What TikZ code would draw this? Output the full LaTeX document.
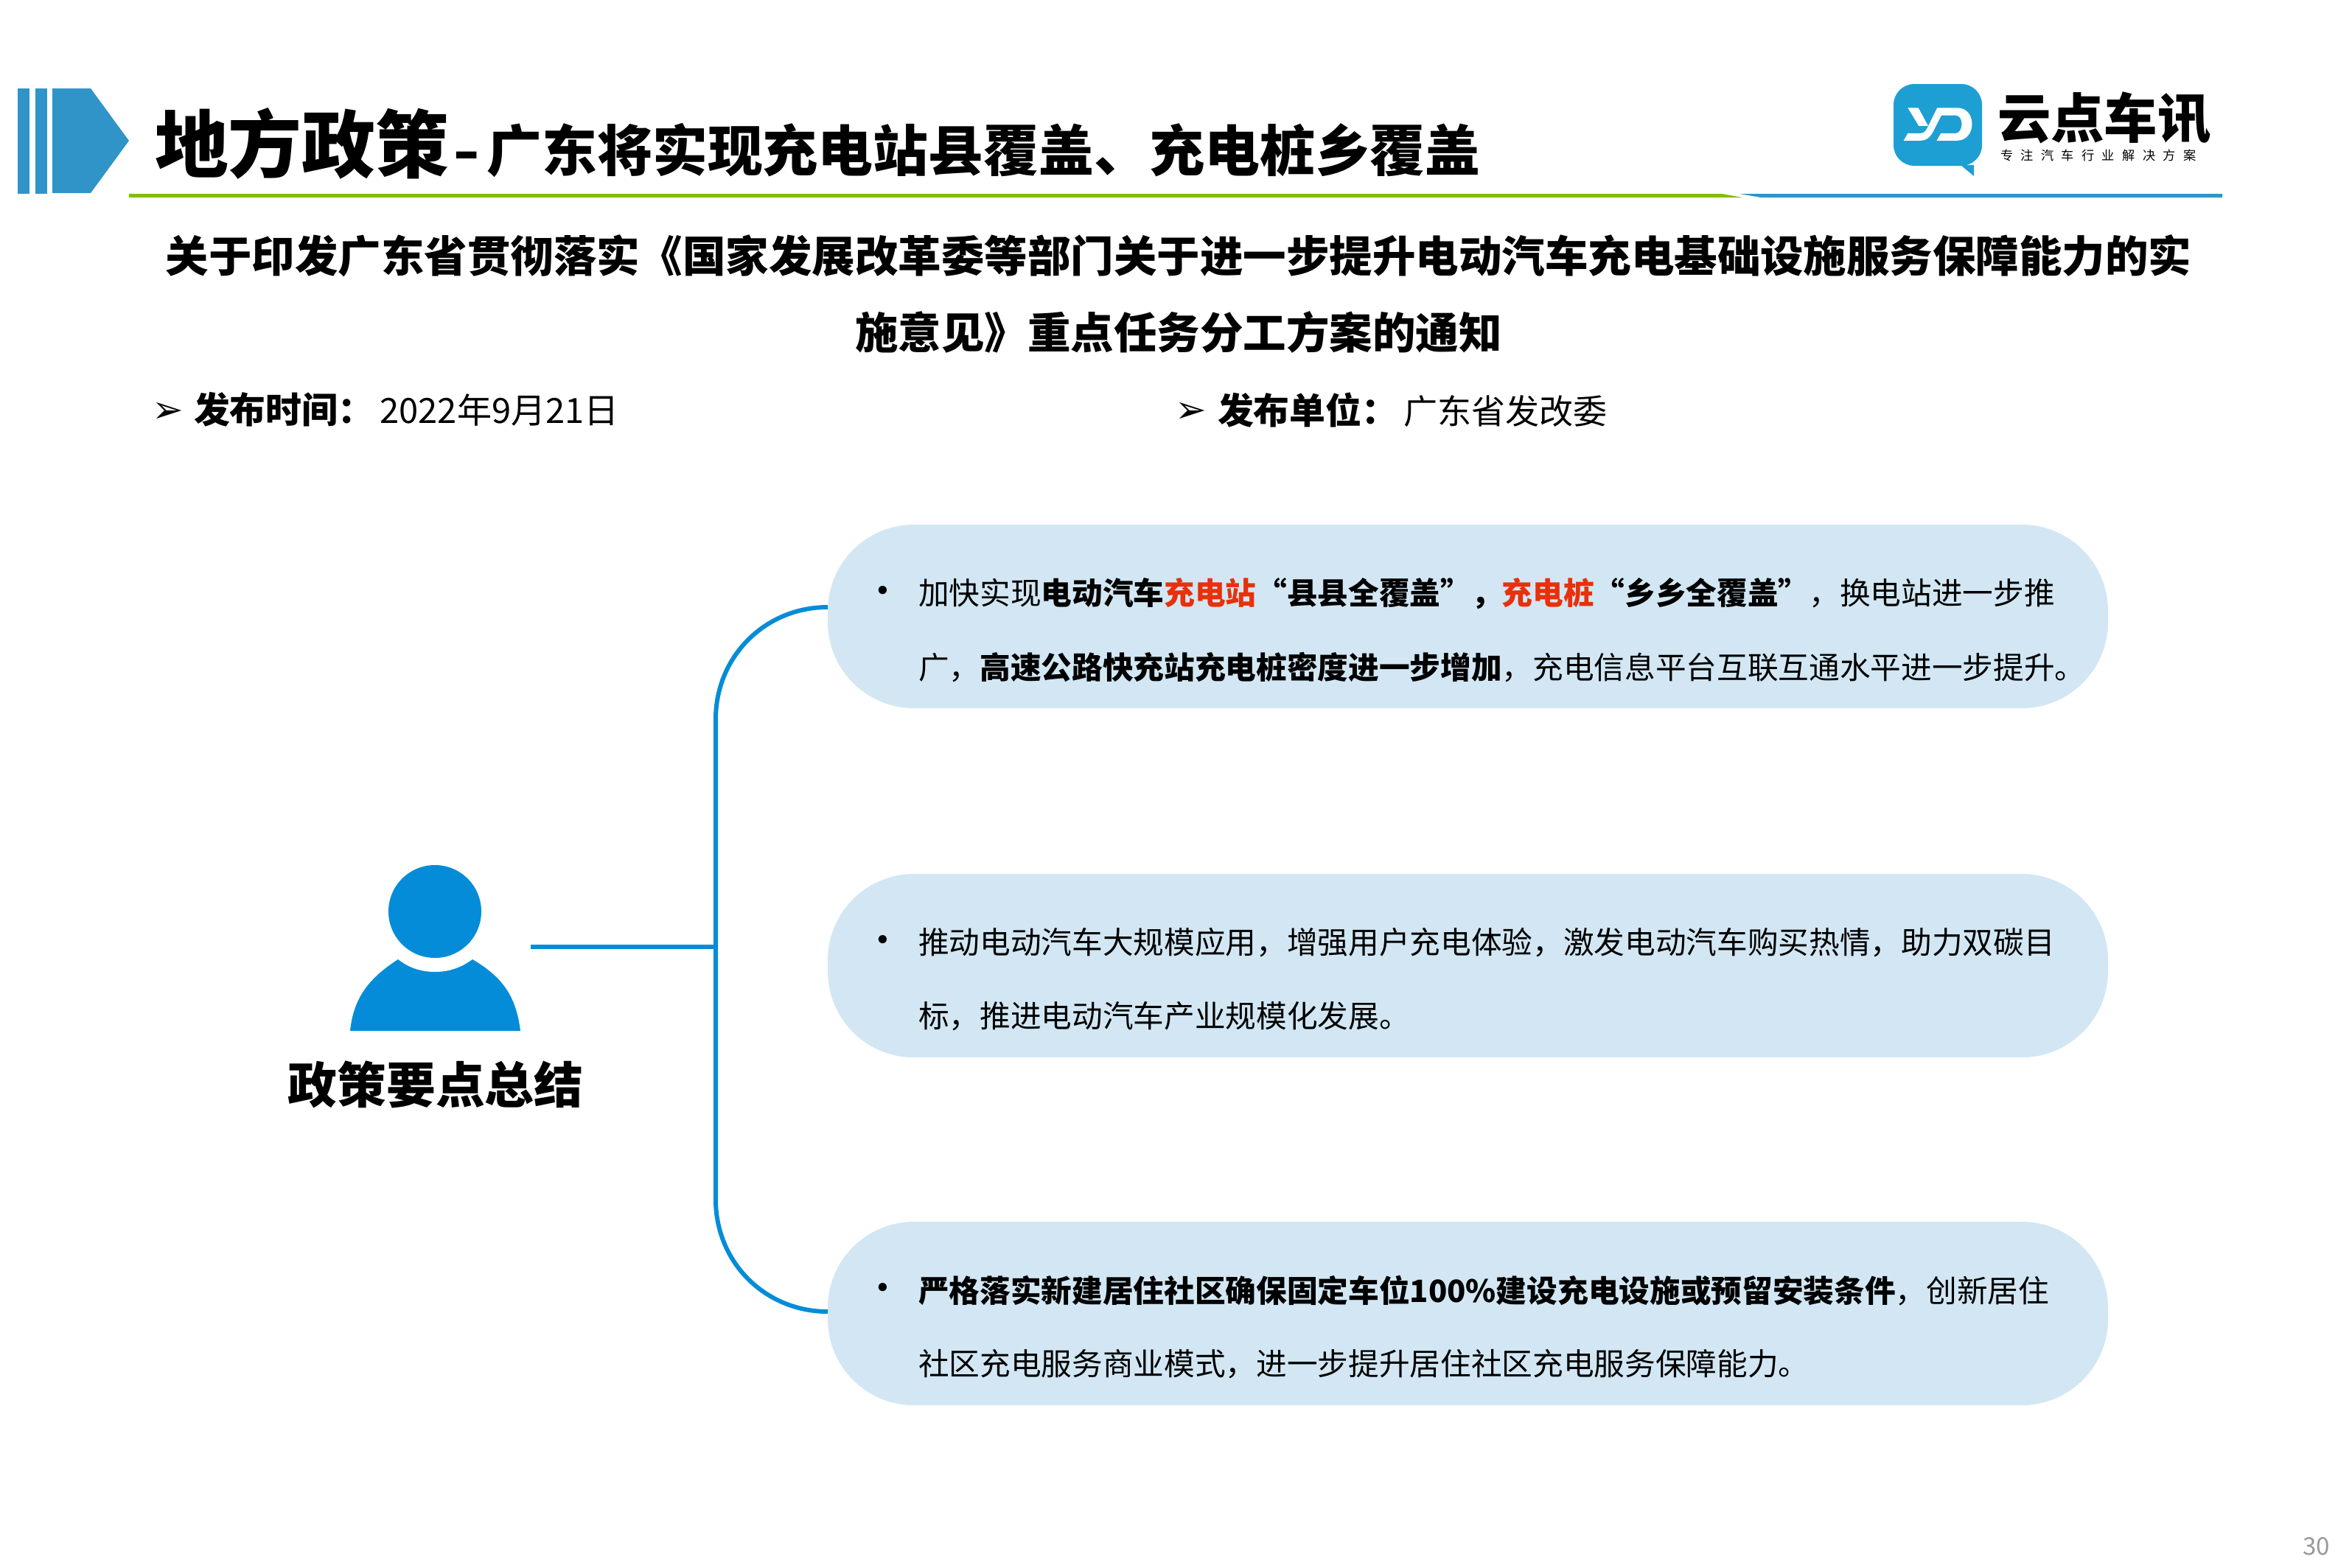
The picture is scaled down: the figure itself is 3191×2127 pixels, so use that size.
\documentclass[tikz,border=0pt]{standalone}
\usepackage{fontspec}
\setmainfont{Noto Sans CJK SC}
\newfontfamily\heavy{Noto Sans CJK SC Black}
\newfontfamily\dejavu{DejaVu Sans}
\definecolor{barblue}{HTML}{3094C8}
\definecolor{greenline}{HTML}{84BD0C}
\definecolor{logoblue}{HTML}{1E9FD4}
\definecolor{personblue}{HTML}{058CD8}
\definecolor{bubblefill}{HTML}{D2E7F3}
\definecolor{redtxt}{HTML}{E8300A}
\newcommand{\fs}[1]{\fontsize{#1}{#1}\selectfont}
\tikzset{
  txt/.style={inner sep=0pt,outer sep=0pt,anchor=west,text=black},
  bubble/.style={draw=none,fill=bubblefill,rounded corners=1.17cm,minimum width=17.36cm,minimum height=2.49cm,anchor=north west,inner sep=0pt,outer sep=0pt},
  bodytxt/.style={txt,font=\fs{11.85}},
  conn/.style={draw=personblue,line width=1.7pt},
  headtxt/.style={inner sep=0pt,anchor=center,font=\bfseries\fs{16.63}}
}
\begin{document}
\begin{tikzpicture}[x=0.01cm,y=-0.01cm]
\useasboundingbox (0,0) rectangle (3191,2127);
% header
\fill[barblue] (24,120) rectangle (40,263);
\fill[barblue] (48,120) rectangle (64,263);
\fill[barblue] (71,120) -- (123,120) -- (175,191) -- (123,262) -- (71,262) -- cycle;
\fill[greenline] (175,263) -- (2336,263) -- (2364,268) -- (175,268) -- cycle;
\fill[barblue] (2360,263) -- (3015,263) -- (3015,268) -- (2389,268) -- cycle;
\node[txt,font=\heavy\fs{28.4}] (t1) at (210,195) {地方政策};
\node[txt,font=\heavy\fs{21.3}] (t2) at (614,204) {\scalebox{1.3}[1]{-}\hspace*{2.6pt}广东将实现充电站县覆盖、充电桩乡覆盖};
% logo
\fill[logoblue,rounded corners=8] (2569,114) rectangle (2689,225);
\fill[logoblue] (2660,224) -- (2678,224) -- (2678,239) -- cycle;
\begin{scope}[shift={(2560,105)},x=0.003333cm,y=-0.003333cm]
\fill[white] (85,124) -- (128,124) -- (168,198) -- (130,198) -- cycle;
\fill[white] (205,124) -- (285,124) .. controls (330,124) and (347,160) .. (347,190) .. controls (347,225) and (325,258) .. (285,258) -- (203,258) -- (220,228) -- (280,228) .. controls (295,228) and (305,210) .. (305,190) .. controls (305,170) and (295,155) .. (280,155) -- (222,155) -- (195,208) .. controls (180,240) and (165,258) .. (135,258) -- (68,258) -- (85,228) -- (135,228) .. controls (150,228) and (158,220) .. (165,205) -- cycle;
\end{scope}
\node[txt,font=\heavy\fs{20.6}] (lg) at (2710,160) {云点车讯};
\node[txt,font=\fs{4.9}\addfontfeature{LetterSpace=60}] (lg2) at (2714,211) {专注汽车行业解决方案};
% heading
\node[headtxt] (h1) at (1599,347) {关于印发广东省贯彻落实《国家发展改革委等部门关于进一步提升电动汽车充电基础设施服务保障能力的实};
\node[headtxt] (h2) at (1599,451) {施意见》重点任务分工方案的通知};
\node[txt,font=\dejavu\fs{14.5}] (a1) at (206,560) {➢};
\node[txt,font=\fs{13.9}] (p1) at (263,556) {\textbf{发布时间：}\hspace*{2.3pt}{\fs{13.4}2022年9月21日}};
\node[txt,font=\dejavu\fs{14.5}] (a2) at (1594,560) {➢};
\node[txt,font=\fs{13.9}] (p2) at (1652,556) {\textbf{发布单位：}\hspace*{2.3pt}{\fs{13.1}广东省发改委}};
% bubbles
\node[bubble] (b1) at (1123,712) {};
\node[bubble] (b2) at (1123,1186) {};
\node[bubble] (b3) at (1123,1658) {};
\foreach \y/\n in {806/a,1279/b,1751/c}{\node[txt,font=\dejavu\fs{11}] (dot\n) at (1186,\y) {•};}
\node[bodytxt] (l1) at (1246,806) {加快实现\textbf{电动汽车\textcolor{redtxt}{充电站}“县县全覆盖”，\textcolor{redtxt}{充电桩}“乡乡全覆盖”}，换电站进一步推};
\node[bodytxt] (l2) at (1246,906) {广，\textbf{高速公路快充站充电桩密度进一步增加}，充电信息平台互联互通水平进一步提升。};
\node[bodytxt] (l3) at (1246,1279) {推动电动汽车大规模应用，增强用户充电体验，激发电动汽车购买热情，助力双碳目};
\node[bodytxt] (l4) at (1246,1379) {标，推进电动汽车产业规模化发展。};
\node[bodytxt] (l5) at (1246,1751) {\textbf{严格落实新建居住社区确保固定车位100\%建设充电设施或预留安装条件}，创新居住};
\node[bodytxt] (l6) at (1246,1851) {社区充电服务商业模式，进一步提升居住社区充电服务保障能力。};
% person
\fill[personblue] (590,1237) ellipse (63 and 63);
\fill[personblue] (475,1399) .. controls (480,1350) and (505,1325) .. (540,1302) .. controls (555,1314) and (572,1319) .. (590,1319) .. controls (608,1319) and (625,1314) .. (641,1302) .. controls (680,1325) and (700,1350) .. (706,1399) -- cycle;
\node[font=\bfseries\fs{19},inner sep=0pt] (lab) at (591,1472) {政策要点总结};
% connectors
\coordinate (pr) at (720,1285);
\coordinate (j) at (971,1285);
\coordinate (e1) at (b1.west |- 0,824);
\coordinate (e3) at (b3.west |- 0,1780);
\draw[conn] (pr) -- (j);
\draw[conn] (e1) .. controls (1038,824) and (971,891) .. (971,976) -- (971,1628) .. controls (971,1713) and (1038,1780) .. (e3);
\node[txt,font=\fs{9.4},text=gray!80] (pg) at (3124,2099) {30};
\end{tikzpicture}
\end{document}
